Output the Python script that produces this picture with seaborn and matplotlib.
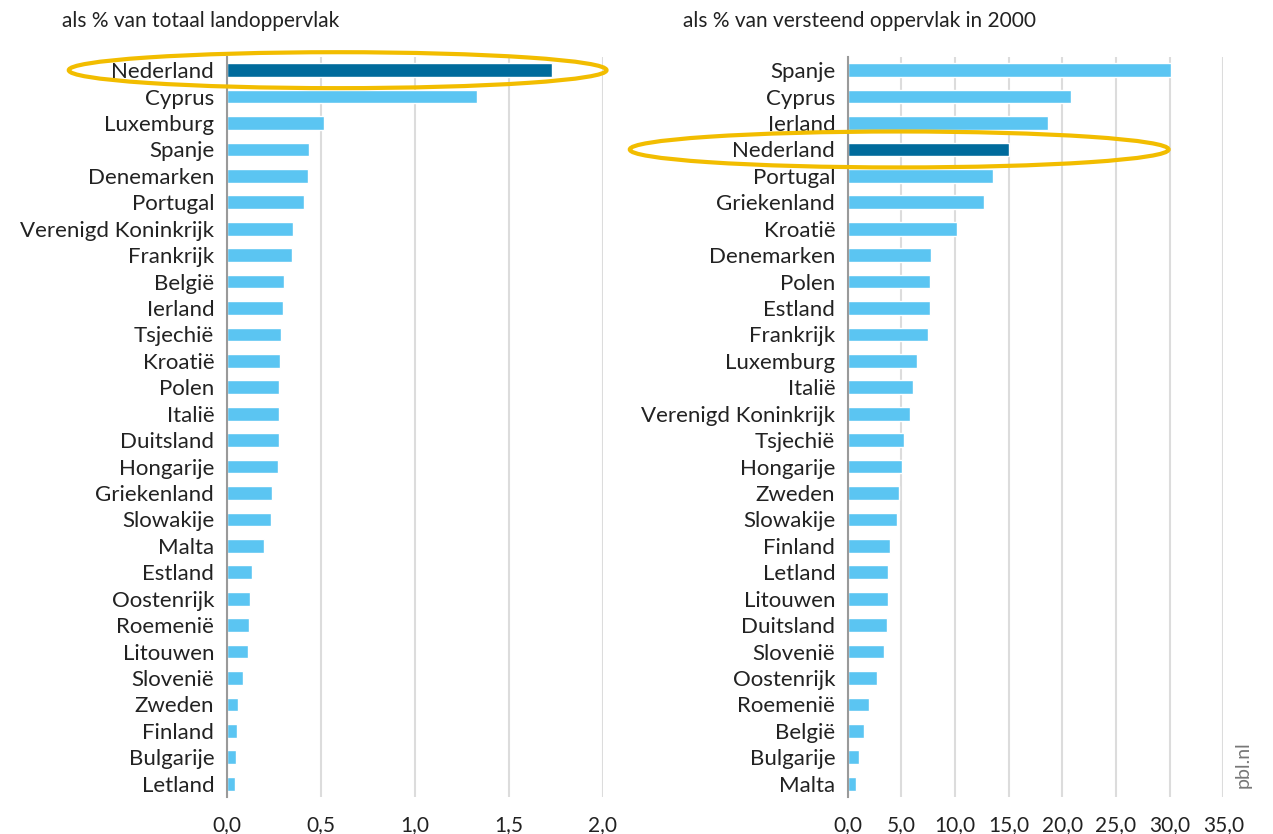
import matplotlib
matplotlib.use("Agg")
import matplotlib.pyplot as plt
from matplotlib.patches import Ellipse
import seaborn as sns

# linker paneel: als % van totaal landoppervlak
land_countries = ["Nederland", "Cyprus", "Luxemburg", "Spanje", "Denemarken", "Portugal",
                  "Verenigd Koninkrijk", "Frankrijk", "België", "Ierland", "Tsjechië",
                  "Kroatië", "Polen", "Italië", "Duitsland", "Hongarije", "Griekenland",
                  "Slowakije", "Malta", "Estland", "Oostenrijk", "Roemenië", "Litouwen",
                  "Slovenië", "Zweden", "Finland", "Bulgarije", "Letland"]
land_values = [1.73, 1.33, 0.52, 0.44, 0.43, 0.41, 0.35, 0.345, 0.305, 0.30, 0.29,
               0.285, 0.28, 0.28, 0.278, 0.275, 0.243, 0.236, 0.197, 0.136, 0.124,
               0.12, 0.111, 0.085, 0.062, 0.055, 0.05, 0.046]

# rechter paneel: als % van versteend oppervlak in 2000
sealed_countries = ["Spanje", "Cyprus", "Ierland", "Nederland", "Portugal", "Griekenland",
                    "Kroatië", "Denemarken", "Polen", "Estland", "Frankrijk", "Luxemburg",
                    "Italië", "Verenigd Koninkrijk", "Tsjechië", "Hongarije", "Zweden",
                    "Slowakije", "Finland", "Letland", "Litouwen", "Duitsland", "Slovenië",
                    "Oostenrijk", "Roemenië", "België", "Bulgarije", "Malta"]
sealed_values = [30.1, 20.8, 18.7, 15.0, 13.5, 12.7, 10.2, 7.75, 7.7, 7.65, 7.5, 6.45,
                 6.1, 5.8, 5.2, 5.05, 4.8, 4.6, 3.9, 3.8, 3.75, 3.7, 3.4, 2.75, 1.95,
                 1.55, 1.1, 0.75]

land_ticks = [0, 0.5, 1.0, 1.5, 2.0]
land_ticklabels = ["0,0", "0,5", "1,0", "1,5", "2,0"]
sealed_ticks = [0, 5, 10, 15, 20, 25, 30, 35]
sealed_ticklabels = ["0,0", "5,0", "10,0", "15,0", "20,0", "25,0", "30,0", "35,0"]

light = "#5bc5f2"
dark = "#006b9c"
highlight = "Nederland"

sns.set_style("white")
plt.rcParams["font.family"] = ["Lato", "DejaVu Sans"]

fig = plt.figure(figsize=(12.73, 8.34), dpi=100)
ax1 = fig.add_axes([0.1781, 0.0444, 0.2954, 0.8873])
ax2 = fig.add_axes([0.6659, 0.0444, 0.2951, 0.8873])


def draw_panel(ax, countries, values, ticks, ticklabels, xmax):
    pal = {c: (dark if c == highlight else light) for c in countries}
    sns.barplot(x=values, y=countries, hue=countries, palette=pal, legend=False,
                orient="h", width=0.52, saturation=1, ax=ax, zorder=3)
    ax.set_xlim(0, xmax)
    ax.set_ylim(len(countries) - 0.5, -0.5)
    ax.set_xticks(ticks)
    ax.set_xticklabels(ticklabels)
    ax.xaxis.grid(True, color="#dcdcdc", lw=1.5, zorder=0)
    ax.set_axisbelow(True)
    for s in ["top", "right", "bottom"]:
        ax.spines[s].set_visible(False)
    ax.spines["left"].set_color("#9a9a9a")
    ax.spines["left"].set_linewidth(1.5)
    ax.spines["left"].set_zorder(4)
    ax.tick_params(axis="both", length=0, colors="#222222")
    ax.tick_params(axis="y", labelsize=16, pad=9)
    ax.tick_params(axis="x", labelsize=15, pad=13)
    ax.set_xlabel("")
    ax.set_ylabel("")


draw_panel(ax1, land_countries, land_values, land_ticks, land_ticklabels, 2.0)
draw_panel(ax2, sealed_countries, sealed_values, sealed_ticks, sealed_ticklabels, 35)

fig.text(62 / 1273, 1 - 21 / 834, "als % van totaal landoppervlak", fontsize=15,
         color="#222222", va="center", ha="left")
fig.text(683 / 1273, 1 - 21 / 834, "als % van versteend oppervlak in 2000", fontsize=15,
         color="#222222", va="center", ha="left")

# gele markering rond Nederland
ax1.add_patch(Ellipse((0.59, land_countries.index(highlight)), 2.86, 1.36, fill=False,
                      edgecolor="#f2bd00", lw=3, clip_on=False, zorder=5))
ax2.add_patch(Ellipse((4.8, sealed_countries.index(highlight)), 50.2, 1.36, fill=False,
                      edgecolor="#f2bd00", lw=3, clip_on=False, zorder=5))

fig.text(1243 / 1273, 1 - 765 / 834, "pbl.nl", rotation=90, fontsize=14,
         color="#777777", va="center", ha="center")

fig.savefig("out.png", dpi=100)
